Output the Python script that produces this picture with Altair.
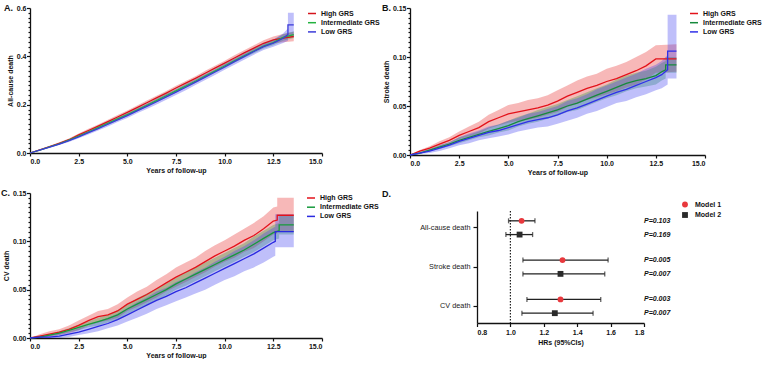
import altair as alt
import pandas as pd

FONT = "Liberation Sans"
GROUPS = ["High GRS", "Intermediate GRS", "Low GRS"]
BAND_COLORS = ["#e82828", "#20a040", "#3c3cf0"]

GRID = [0, 0.5, 1, 1.5, 2, 2.5, 3, 3.5, 4, 4.5, 5, 5.5, 6, 6.5, 7, 7.5, 8, 8.5, 9,
        9.5, 10, 10.5, 11, 11.5, 12, 12.5]
X_TICKS = [0, 2.5, 5, 7.5, 10, 12.5, 15]
A_YTICKS = [0, 0.2, 0.4, 0.6]
BC_YTICKS = [0, 0.05, 0.10, 0.15]

# ---------------- Panel A : all-cause death ----------------
A_HIGH_T = GRID + [13.0, 13.55]
A_HIGH_EST = [0, .013, .026, .040, .055, .075, .093, .111, .130, .149, .168, .188, .208, .228,
              .248, .269, .289, .309, .330, .351, .372, .393, .414, .434, .454, .468, .475, .482]
A_HIGH_LO = [0, .011, .023, .036, .050, .069, .086, .104, .122, .141, .160, .179, .199, .219,
             .239, .260, .280, .300, .320, .341, .362, .382, .403, .422, .441, .454, .458, .462]
A_HIGH_HI = [0, .015, .029, .044, .060, .081, .100, .118, .138, .157, .176, .197, .217, .237,
             .257, .278, .298, .318, .340, .361, .382, .404, .425, .446, .467, .482, .492, .502]

A_INT_T = GRID + [13.0, 13.55]
A_INT_EST = [0, .012, .025, .038, .053, .070, .087, .105, .123, .141, .159, .178, .197, .217,
             .237, .257, .277, .297, .318, .339, .360, .381, .402, .422, .442, .457, .478, .490]
A_INT_LO = [0, .011, .023, .035, .049, .066, .082, .099, .117, .135, .153, .172, .191, .210,
            .230, .250, .270, .290, .311, .332, .352, .373, .394, .413, .432, .446, .465, .476]
A_INT_HI = [0, .013, .027, .041, .057, .074, .092, .111, .129, .147, .165, .184, .203, .224,
            .244, .264, .284, .304, .325, .346, .368, .389, .410, .431, .452, .468, .491, .504]

A_LOW_T = GRID + [13.0, 13.25, 13.25, 13.55]
A_LOW_EST = [0, .012, .024, .037, .051, .067, .084, .101, .119, .137, .155, .174, .193, .212,
             .232, .252, .272, .293, .314, .335, .356, .378, .399, .420, .440, .455,
             .475, .490, .530, .530]
A_LOW_LO = [0, .010, .021, .033, .046, .061, .077, .093, .110, .128, .145, .164, .182, .201,
            .220, .240, .260, .281, .302, .323, .344, .365, .386, .407, .426, .440,
            .455, .465, .480, .480]
A_LOW_HI = [0, .014, .027, .041, .056, .073, .091, .109, .128, .146, .165, .184, .204, .223,
            .244, .264, .284, .305, .326, .347, .368, .391, .412, .433, .454, .470,
            .495, .515, .580, .580]

# ---------------- Panel B : stroke death ----------------
B_HIGH_T = GRID + [13.55]
B_HIGH_EST = [0, .004, .007, .011, .015, .020, .024, .028, .034, .038, .042, .044, .046, .048,
              .051, .055, .060, .064, .068, .071, .075, .078, .082, .086, .091, .098, .098]
B_HIGH_LO = [0, .003, .005, .008, .012, .016, .019, .022, .027, .030, .033, .035, .036, .038,
             .041, .044, .049, .052, .056, .059, .062, .065, .069, .072, .077, .084, .085]
B_HIGH_HI = [0, .005, .009, .014, .018, .024, .029, .034, .041, .046, .051, .053, .056, .058,
             .061, .066, .071, .076, .080, .083, .088, .091, .095, .100, .105, .112, .113]

B_INT_T = GRID + [12.8, 13.0, 13.0, 13.55]
B_INT_EST = [0, .002, .005, .008, .011, .015, .018, .021, .024, .027, .030, .034, .037, .040,
             .043, .046, .050, .053, .057, .061, .065, .069, .073, .076, .078, .081,
             .085, .087, .092, .092]
B_INT_LO = [0, .001, .004, .006, .009, .012, .015, .018, .020, .023, .025, .029, .032, .034,
            .037, .040, .044, .046, .050, .054, .058, .061, .065, .068, .070, .072,
            .076, .078, .084, .084]
B_INT_HI = [0, .003, .006, .010, .013, .018, .021, .024, .028, .031, .035, .039, .042, .046,
            .049, .052, .056, .060, .064, .068, .072, .077, .081, .084, .086, .090,
            .094, .096, .100, .100]

B_LOW_T = GRID + [12.8, 13.1, 13.1, 13.55]
B_LOW_EST = [0, .002, .004, .007, .010, .014, .017, .020, .023, .025, .028, .031, .034, .036,
             .038, .041, .045, .048, .052, .056, .060, .064, .067, .071, .075, .079,
             .082, .087, .106, .106]
B_LOW_LO = [0, .001, .002, .004, .007, .010, .012, .015, .017, .019, .021, .024, .026, .028,
            .029, .032, .035, .038, .042, .045, .049, .053, .055, .059, .062, .066,
            .068, .072, .078, .078]
B_LOW_HI = [0, .003, .006, .010, .013, .018, .022, .025, .029, .031, .035, .038, .042, .044,
            .047, .050, .055, .058, .062, .067, .071, .075, .079, .083, .088, .092,
            .096, .102, .143, .143]

# ---------------- Panel C : CV death ----------------
C_HIGH_T = GRID + [12.7, 12.7, 13.55]
C_HIGH_EST = [0, .002, .004, .006, .009, .013, .018, .022, .024, .028, .035, .040, .045, .051,
              .057, .063, .068, .073, .079, .085, .090, .095, .101, .106, .113, .121,
              .122, .127, .127]
C_HIGH_LO = [0, 0, .001, .003, .005, .008, .013, .016, .018, .021, .028, .032, .037, .042,
             .048, .053, .058, .063, .068, .074, .079, .083, .089, .093, .100, .107,
             .108, .110, .110]
C_HIGH_HI = [0, .004, .007, .009, .013, .018, .023, .028, .030, .035, .042, .048, .053, .060,
             .066, .073, .078, .083, .090, .096, .101, .107, .113, .119, .126, .135,
             .136, .145, .145]

C_INT_T = GRID + [12.8, 12.8, 13.55]
C_INT_EST = [0, .001, .003, .005, .008, .011, .014, .017, .020, .024, .030, .035, .040, .045,
             .050, .056, .061, .066, .071, .076, .081, .086, .091, .097, .103, .109,
             .111, .117, .117]
C_INT_LO = [0, 0, .002, .003, .006, .008, .011, .013, .016, .019, .025, .029, .034, .039,
            .044, .050, .054, .059, .064, .069, .074, .079, .084, .089, .095, .101,
            .103, .107, .107]
C_INT_HI = [0, .002, .004, .007, .010, .014, .017, .021, .024, .029, .035, .041, .046, .051,
            .056, .062, .068, .073, .078, .083, .088, .093, .098, .105, .111, .117,
            .119, .127, .127]

C_LOW_T = GRID + [12.6, 12.6, 13.55]
C_LOW_EST = [0, .001, .001, .002, .004, .006, .009, .012, .015, .019, .024, .029, .034, .039,
             .043, .048, .052, .057, .062, .067, .072, .077, .082, .087, .093, .099,
             .100, .110, .110]
C_LOW_LO = [0, 0, 0, 0, .001, .003, .005, .007, .010, .013, .017, .021, .025, .030,
            .034, .038, .042, .046, .050, .055, .060, .064, .069, .073, .078, .084,
            .085, .094, .094]
C_LOW_HI = [0, .002, .003, .005, .007, .010, .013, .017, .021, .025, .031, .037, .042, .048,
            .052, .058, .062, .068, .073, .079, .084, .090, .095, .101, .108, .114,
            .115, .128, .128]

# ---------------- Panel D : forest plot ----------------
OUTCOMES = ["All-cause death", "Stroke death", "CV death"]
MODELS = ["Model 1", "Model 2"]
D_OUTCOME = ["All-cause death", "All-cause death", "Stroke death", "Stroke death",
             "CV death", "CV death"]
D_MODEL = ["Model 1", "Model 2", "Model 1", "Model 2", "Model 1", "Model 2"]
D_HR = [1.067, 1.055, 1.312, 1.300, 1.300, 1.266]
D_LO = [0.989, 0.973, 1.075, 1.075, 1.099, 1.069]
D_HI = [1.147, 1.133, 1.585, 1.565, 1.541, 1.495]
D_P = ["P=0.103", "P=0.169", "P=0.005", "P=0.007", "P=0.003", "P=0.007"]
D_XTICKS = [0.8, 1.0, 1.2, 1.4, 1.6, 1.8]

FS = 7
INK = "#111"


def series(group, t, est, lo, hi):
    assert len(t) == len(est) == len(lo) == len(hi), group
    return pd.DataFrame({"t": t, "est": est, "lo": lo, "hi": hi, "group": group,
                         "idx": list(range(len(t)))})


def km_panel(frames, ymax, majors, yfmt, ytitle, letter, letter_x, w, h, lx, ly,
             line_colors):
    df = pd.concat(frames, ignore_index=True)
    step = majors[1] / 10.0
    minor_vals = [round(i * step, 5) for i in range(int(round(ymax / step)) + 1)]
    k = 1.0 / majors[1]
    is_major = f"abs(datum.value*{k} - round(datum.value*{k})) < 0.001"
    xs = alt.Scale(domain=[0, 15], nice=False, zero=False)
    ys = alt.Scale(domain=[0, ymax], nice=False)
    xax = alt.Axis(values=X_TICKS, format=".1f", title="Years of follow-up",
                   labelOverlap=False)
    yax = alt.Axis(values=minor_vals, format=yfmt, title=ytitle, titlePadding=3,
                   labelPadding=0.5, labelOverlap=False,
                   labelExpr=f"{is_major} ? datum.label : ''",
                   tickSize={"condition": {"test": is_major, "value": 3.5}, "value": 2})
    layers = []
    for g, col in zip(GROUPS, BAND_COLORS):
        layers.append(
            alt.Chart(df).transform_filter(alt.datum.group == g)
            .mark_area(opacity=0.33, color=col, interpolate="linear")
            .encode(x=alt.X("t:Q", scale=xs, axis=xax),
                    y=alt.Y("lo:Q", scale=ys, axis=yax),
                    y2="hi:Q")
        )
    line = alt.Chart(df).mark_line(strokeWidth=1.3, interpolate="linear").encode(
        x=alt.X("t:Q", scale=xs, axis=xax),
        y=alt.Y("est:Q", scale=ys, axis=yax),
        color=alt.Color(
            "group:N",
            scale=alt.Scale(domain=GROUPS, range=line_colors),
            legend=alt.Legend(orient="none", legendX=lx, legendY=ly, title=None,
                              symbolType="stroke", symbolSize=64, symbolStrokeWidth=1.5,
                              labelFont=FONT, labelFontSize=FS, labelFontWeight="bold",
                              labelColor=INK, labelOffset=4, rowPadding=1.2, padding=0),
        ),
        order=alt.Order("idx:Q"),
    )
    layers.append(line)
    lab = alt.Chart(pd.DataFrame({"lab": [letter]})).mark_text(
        align="left", baseline="alphabetic", fontSize=9, fontWeight="bold", font=FONT,
        color=INK).encode(x=alt.value(letter_x), y=alt.value(3), text="lab:N")
    layers.append(lab)
    return alt.layer(*layers).properties(width=w, height=h)


panelA = km_panel(
    [series("High GRS", A_HIGH_T, A_HIGH_EST, A_HIGH_LO, A_HIGH_HI),
     series("Intermediate GRS", A_INT_T, A_INT_EST, A_INT_LO, A_INT_HI),
     series("Low GRS", A_LOW_T, A_LOW_EST, A_LOW_LO, A_LOW_HI)],
    0.6, A_YTICKS, ".1f", "All-cause death", "A.", -26, 292, 145, 277, 0.5,
    ["#d4141c", "#23b23f", "#3b3bd8"])

panelB = km_panel(
    [series("High GRS", B_HIGH_T, B_HIGH_EST, B_HIGH_LO, B_HIGH_HI),
     series("Intermediate GRS", B_INT_T, B_INT_EST, B_INT_LO, B_INT_HI),
     series("Low GRS", B_LOW_T, B_LOW_EST, B_LOW_LO, B_LOW_HI)],
    0.15, BC_YTICKS, ".2f", "Stroke death", "B.", -28, 295, 147, 279, 0.5,
    ["#e3121a", "#168a3c", "#3030e8"])

panelC = km_panel(
    [series("High GRS", C_HIGH_T, C_HIGH_EST, C_HIGH_LO, C_HIGH_HI),
     series("Intermediate GRS", C_INT_T, C_INT_EST, C_INT_LO, C_INT_HI),
     series("Low GRS", C_LOW_T, C_LOW_EST, C_LOW_LO, C_LOW_HI)],
    0.15, BC_YTICKS, ".2f", "CV death", "C.", -29, 292, 145, 276, 0.0,
    ["#e3121a", "#169a3c", "#2a2ae0"])

# forest plot
D_H = 130
D_TOP = 18
fdf = pd.DataFrame({"outcome": D_OUTCOME, "model": D_MODEL, "hr": D_HR, "lo": D_LO,
                    "hi": D_HI, "p": D_P})
dxs = alt.Scale(domain=[0.8, 1.8], nice=False, zero=False)
dys = alt.Scale(domain=OUTCOMES, paddingInner=0.3, paddingOuter=0.075, range=[D_TOP, D_H])
dxax = alt.Axis(values=D_XTICKS, format=".1f", title="HRs (95%CIs)",
                labelOverlap=False, titlePadding=3, tickSize=3.5)
dyax = alt.Axis(title=None, labelFontWeight="normal", labelColor="#222", tickSize=4,
                labelPadding=3, labelFontSize=7.3)
yoff = alt.YOffset("model:N", scale=alt.Scale(domain=MODELS, paddingInner=0, paddingOuter=0))
Y = alt.Y("outcome:N", scale=dys, axis=dyax, sort=OUTCOMES)

ref = alt.Chart(pd.DataFrame({"ref": [1.0]})).mark_rule(
    strokeDash=[1.5, 1.5], color="#222", strokeWidth=1.2).encode(
    x=alt.X("ref:Q", scale=dxs, axis=dxax), y=alt.value(D_TOP), y2=alt.value(D_H))
ci = alt.Chart(fdf).mark_rule(color="#222", strokeWidth=1.3).encode(
    x=alt.X("lo:Q", scale=dxs, axis=dxax), x2="hi:Q", y=Y, yOffset=yoff)
capl = alt.Chart(fdf).mark_tick(color="#222", thickness=1.3, size=5).encode(
    x=alt.X("lo:Q", scale=dxs, axis=dxax), y=Y, yOffset=yoff)
capr = alt.Chart(fdf).mark_tick(color="#222", thickness=1.3, size=5).encode(
    x=alt.X("hi:Q", scale=dxs, axis=dxax), y=Y, yOffset=yoff)
dleg = alt.Legend(orient="none", legendX=204, legendY=7.5, title=None, symbolSize=34,
                  labelFont=FONT, labelFontSize=FS, labelFontWeight="bold",
                  labelColor=INK, labelOffset=6, rowPadding=3.5, padding=0)
pts = alt.Chart(fdf).mark_point(filled=True, size=34, opacity=1).encode(
    x=alt.X("hr:Q", scale=dxs, axis=dxax), y=Y, yOffset=yoff,
    color=alt.Color("model:N", scale=alt.Scale(domain=MODELS, range=["#e8383d", "#2a2a2a"]),
                    legend=dleg),
    shape=alt.Shape("model:N", scale=alt.Scale(domain=MODELS, range=["circle", "square"]),
                    legend=dleg))
ptxt = alt.Chart(fdf).mark_text(align="left", baseline="middle", fontStyle="italic",
                                fontWeight="bold", fontSize=FS, font=FONT,
                                color=INK).encode(
    x=alt.XDatum(1.8, type="quantitative", scale=dxs, axis=dxax), y=Y, yOffset=yoff,
    text="p:N")
dlab = alt.Chart(pd.DataFrame({"lab": ["D."]})).mark_text(
    align="left", baseline="alphabetic", fontSize=9, fontWeight="bold", font=FONT,
    color=INK).encode(x=alt.value(-95), y=alt.value(4), text="lab:N")
panelD = alt.layer(ref, ci, capl, capr, pts, ptxt, dlab).properties(width=167, height=D_H)

res = dict(color="independent", shape="independent", x="independent", y="independent")
row1 = alt.hconcat(panelA, panelB, spacing=88, bounds="flush").resolve_scale(**res)
row2 = alt.hconcat(panelC, panelD, spacing=155, bounds="flush").resolve_scale(**res)

chart = alt.vconcat(row1, row2, spacing=13).resolve_scale(**res).properties(
    padding={"left": 1, "top": 4, "right": 0, "bottom": 0}
).configure(font=FONT).configure_axis(
    labelFont=FONT, labelFontSize=FS, labelFontWeight="bold", labelColor=INK,
    titleFont=FONT, titleFontSize=FS, titleFontWeight="bold", titleColor=INK,
    domainColor=INK, domainWidth=1.3, tickColor=INK, tickWidth=1.2, tickSize=3,
    grid=False, labelPadding=1.5, titlePadding=2,
).configure_view(stroke=None)

chart.save("out.html", embed_options={"renderer": "svg", "actions": False})
